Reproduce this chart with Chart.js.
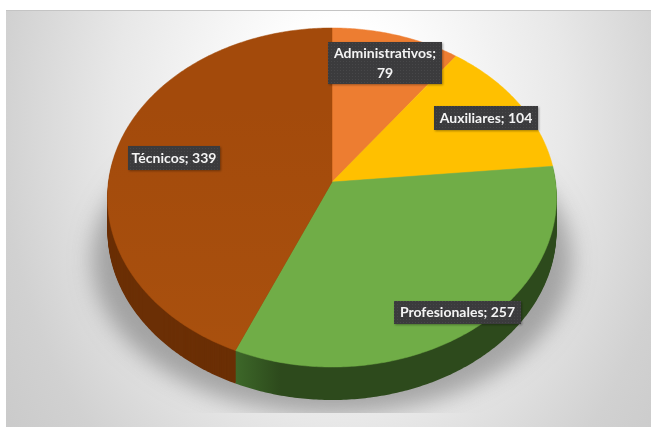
<!DOCTYPE html>
<html><head><meta charset="utf-8">
<style>html,body{margin:0;padding:0;background:#fff;width:651px;height:427px;overflow:hidden}canvas{display:block}</style>
<script src="https://cdn.jsdelivr.net/npm/chart.js@4"></script>
</head><body><canvas id="c" width="651" height="427"></canvas>
<script>
const categories = ['Administrativos', 'Auxiliares', 'Profesionales', 'Técnicos'];
const values = [79, 104, 257, 339];
const sliceColors = ['#ED7D31', '#FFC000', '#70AD47', '#A34A0B'];
const wallColors = ['#8a4a1c', '#997300', '#2D4A1C', '#6B2F05'];

const panel = {x:6, y:10, w:645, h:417};
const view = {cx:332, cy:182, R:223.6, A:168.1, k:-0.0914, depth:33};
const labelBoxes = [
  {x:328, y:42, w:114, h:42},
  {x:434, y:106, w:104, h:24},
  {x:394, y:301, w:127, h:23},
  {x:128, y:146, w:92, h:24}
];

function project(angle, r, dy) {
  const u = Math.cos(angle) * r, v = Math.sin(angle) * r, w = 1 + view.k * v;
  return [view.cx + view.R * u / w, view.cy + view.A * v / w + dy];
}
function traceSlice(ctx, a0, a1, dy) {
  ctx.beginPath();
  const c = project(0, 0, dy);
  ctx.moveTo(c[0], c[1]);
  const n = Math.max(8, Math.ceil((a1 - a0) * 90));
  for (let i = 0; i <= n; i++) {
    const p = project(a0 + (a1 - a0) * i / n, 1, dy);
    ctx.lineTo(p[0], p[1]);
  }
  ctx.closePath();
}
function dotPattern(ctx) {
  const t = document.createElement('canvas');
  t.width = t.height = 3;
  const g = t.getContext('2d');
  g.fillStyle = '#3b3b3d'; g.fillRect(0, 0, 3, 3);
  g.fillStyle = '#474749'; g.fillRect(1, 1, 1, 1);
  return ctx.createPattern(t, 'repeat');
}

const scenePlugin = {
  id: 'scene',
  beforeDraw(chart) {
    const ctx = chart.ctx;
    ctx.save();
    ctx.fillStyle = '#fff';
    ctx.fillRect(0, 0, 651, 427);
    ctx.beginPath(); ctx.rect(panel.x, panel.y, panel.w, panel.h); ctx.clip();
    ctx.save();
    ctx.translate(340, 120);
    ctx.scale(1, 1 / 0.75);
    const g = ctx.createRadialGradient(0, 0, 70, 0, 0, 450);
    g.addColorStop(0, '#ffffff');
    g.addColorStop(0.41, '#e8e8e8');
    g.addColorStop(0.711, '#d1d1d1');
    g.addColorStop(1, '#c6c6c6');
    ctx.fillStyle = g;
    ctx.fillRect(-400, -200, 800, 500);
    ctx.restore();
    ctx.fillStyle = '#c4c4c4';
    ctx.fillRect(panel.x, panel.y, panel.w, 1);
    // soft shadow under the pie, cast from an off-canvas ellipse, cut off at its own image edge
    ctx.beginPath(); ctx.rect(panel.x, panel.y, panel.w, 403); ctx.clip();
    ctx.shadowColor = 'rgba(120,120,120,0.6)';
    ctx.shadowBlur = 22;
    ctx.shadowOffsetX = 2000;
    ctx.fillStyle = '#000';
    ctx.beginPath();
    ctx.ellipse(332 - 2000, 260, 240, 155, 0, 0, Math.PI * 2);
    ctx.fill();
    ctx.restore();
  },
  beforeDatasetDraw(chart, args) {
    const ctx = chart.ctx;
    const arcs = args.meta.data;
    ctx.save();
    // walls
    for (let dy = view.depth; dy >= 1; dy--) {
      arcs.forEach((arc, i) => {
        if (i < 2) return;
        const g = ctx.createLinearGradient(235, 0, 280, 0);
        g.addColorStop(0, i === 2 ? '#3d6829' : '#7a3a0c');
        g.addColorStop(1, wallColors[i]);
        ctx.fillStyle = i === 2 ? g : wallColors[i];
        traceSlice(ctx, arc.startAngle, arc.endAngle, dy);
        ctx.fill();
      });
    }
    // top face
    arcs.forEach((arc, i) => {
      ctx.fillStyle = arc.options.backgroundColor;
      traceSlice(ctx, arc.startAngle, arc.endAngle, 0);
      ctx.fill();
      ctx.strokeStyle = arc.options.backgroundColor;
      ctx.lineWidth = 0.5;
      ctx.stroke();
    });
    // faint light from below
    const lit = ctx.createLinearGradient(0, 100, 0, 367);
    lit.addColorStop(0, 'rgba(255,170,60,0)');
    lit.addColorStop(1, 'rgba(255,170,60,0.07)');
    ctx.fillStyle = lit;
    const last = arcs[arcs.length - 1];
    traceSlice(ctx, last.startAngle, last.endAngle, 0);
    ctx.fill();
    ctx.restore();
    return false;
  },
  afterDatasetsDraw(chart) {
    const ctx = chart.ctx;
    const pat = dotPattern(ctx);
    ctx.save();
    labelBoxes.forEach((b, i) => {
      ctx.save();
      ctx.shadowColor = 'rgba(0,0,0,0.35)';
      ctx.shadowBlur = 2; ctx.shadowOffsetX = 1; ctx.shadowOffsetY = 1;
      ctx.fillStyle = pat;
      ctx.fillRect(b.x, b.y, b.w, b.h);
      ctx.restore();
      ctx.fillStyle = '#f4f4f4';
      ctx.font = '700 14px Lato, "Open Sans", sans-serif';
      ctx.textAlign = 'center';
      ctx.textBaseline = 'middle';
      const mx = b.x + b.w / 2;
      if (i === 0) {
        ctx.fillText(categories[i] + ';', mx, b.y + 11);
        ctx.fillText(String(values[i]), mx, b.y + 31);
      } else {
        ctx.fillText(categories[i] + '; ' + values[i], mx, b.y + b.h / 2);
      }
    });
    ctx.restore();
  }
};

new Chart(document.getElementById('c'), {
  type: 'pie',
  data: { labels: categories, datasets: [{ data: values, backgroundColor: sliceColors, borderWidth: 0 }] },
  options: {
    responsive: false,
    animation: false,
    plugins: { legend: { display: false }, tooltip: { enabled: false } }
  },
  plugins: [scenePlugin]
});
</script></body></html>
